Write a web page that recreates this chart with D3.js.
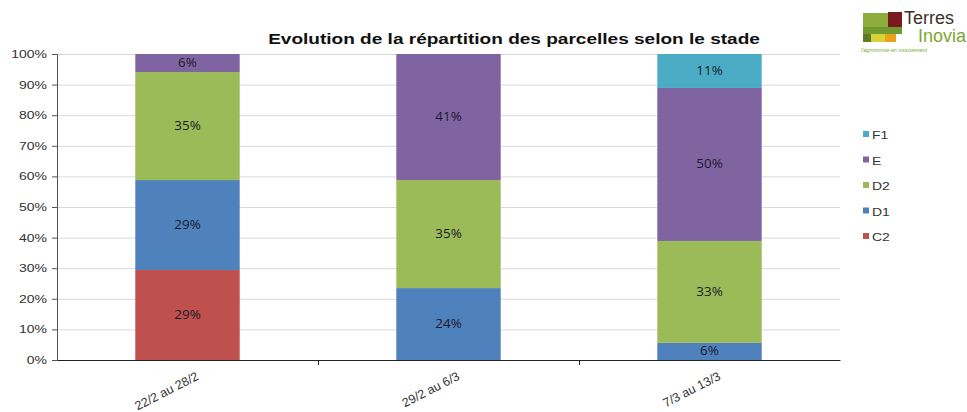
<!DOCTYPE html>
<html>
<head>
<meta charset="utf-8">
<script src="https://cdnjs.cloudflare.com/ajax/libs/d3/7.8.5/d3.min.js"></script>
<style>
  body { margin: 0; background: #fff; }
  text { font-family: "Liberation Sans", Arial, sans-serif; }
</style>
</head>
<body>
<figure id="chart" style="margin:0"></figure>
<script>
// data (percent of parcels per stage)
const periods = ["22/2 au 28/2", "29/2 au 6/3", "7/3 au 13/3"];
const stages = ["C2", "D1", "D2", "E", "F1"];
const C2 = [29.4, 0, 0];
const D1 = [29.4, 23.5, 5.6];
const D2 = [35.3, 35.3, 33.3];
const E = [5.9, 41.2, 50.0];
const F1 = [0, 0, 11.1];
const yTicks = [0, 0.1, 0.2, 0.3, 0.4, 0.5, 0.6, 0.7, 0.8, 0.9, 1];
const colors = ["#C0504D", "#4F81BD", "#9BBB59", "#8064A2", "#4BACC6"];

const width = 967, height = 412;
const margin = { top: 54, left: 57, right: 127, bottom: 52 };
// the original picture was stretched sideways, so the text is too
const sx = 1.27;

const svg = d3.select("#chart").append("svg")
  .attr("width", width).attr("height", height);

// build rows for the stack
const rows = periods.map((p, i) => ({
  period: p, C2: C2[i], D1: D1[i], D2: D2[i], E: E[i], F1: F1[i]
}));
const series = d3.stack().keys(stages).offset(d3.stackOffsetExpand)(rows);

const x = d3.scaleBand()
  .domain(periods)
  .range([margin.left, width - margin.right])
  .paddingInner(0).paddingOuter(0);
const y = d3.scaleLinear().domain([0, 1]).range([height - margin.bottom, margin.top]);
const color = d3.scaleOrdinal().domain(stages).range(colors);

// gridlines
svg.append("g")
  .selectAll("line")
  .data(yTicks.slice(1))
  .join("line")
  .attr("x1", margin.left).attr("x2", width - margin.right)
  .attr("y1", d => y(d) + 0.5).attr("y2", d => y(d) + 0.5)
  .attr("stroke", "#d9d9d9");

// bars
const barW = x.bandwidth() * 0.4;
const groups = svg.append("g").selectAll("g")
  .data(series)
  .join("g")
  .attr("fill", d => color(d.key));

groups.selectAll("rect")
  .data(d => d.filter(s => s[1] - s[0] > 0))
  .join("rect")
  .attr("x", d => x(d.data.period) + (x.bandwidth() - barW) / 2)
  .attr("width", barW)
  .attr("y", d => y(d[1]))
  .attr("height", d => y(d[0]) - y(d[1]));

// value labels
groups.selectAll("text")
  .data(d => d.filter(s => s[1] - s[0] > 0))
  .join("text")
  .attr("transform", d => `translate(${x(d.data.period) + x.bandwidth() / 2},${(y(d[0]) + y(d[1])) / 2 + 4}) scale(1.12,1)`)
  .attr("text-anchor", "middle")
  .attr("font-size", 12)
  .attr("fill", "#1a1a2a")
  .style("font-family", "'Open Sans', sans-serif")
  .text(d => Math.round((d[1] - d[0]) * 100) + "%");

// y axis
const yAxis = svg.append("g")
  .attr("transform", `translate(${margin.left},0)`)
  .call(d3.axisLeft(y).tickValues(yTicks).tickFormat(d3.format(".0%")).tickSize(5).tickPadding(5));
yAxis.select(".domain").attr("stroke", "#555");
yAxis.selectAll(".tick line").attr("stroke", "#555");
yAxis.selectAll("text")
  .attr("x", -10 / sx)
  .attr("transform", `scale(${sx},1)`)
  .attr("font-size", 11).attr("fill", "#333")
  .style("font-family", "'Liberation Sans', Arial, sans-serif");

// x axis
const xAxis = svg.append("g")
  .attr("transform", `translate(0,${height - margin.bottom})`)
  .call(d3.axisBottom(x).tickSize(0).tickFormat(""));
xAxis.select(".domain").attr("stroke", "#222");
xAxis.selectAll(".sep")
  .data(periods.slice(1))
  .join("line")
  .attr("class", "sep")
  .attr("x1", d => x(d) + 0.5).attr("x2", d => x(d) + 0.5)
  .attr("y1", 0).attr("y2", 5)
  .attr("stroke", "#222");
xAxis.selectAll(".lbl")
  .data(periods)
  .join("text")
  .attr("class", "lbl")
  .attr("transform", d => `translate(${x(d) + x.bandwidth() / 2 + 12},${19}) rotate(-27)`)
  .attr("text-anchor", "end")
  .attr("font-size", 12.5)
  .attr("fill", "#333")
  .text(d => d);

// title
svg.append("text")
  .attr("transform", `translate(514,44) scale(${sx},1)`)
  .attr("text-anchor", "middle")
  .attr("font-size", 15)
  .attr("font-weight", "bold")
  .attr("fill", "#111")
  .text("Evolution de la répartition des parcelles selon le stade");

// legend (reversed order, top is F1)
const legend = svg.append("g").attr("transform", "translate(863,135)");
const legItems = legend.selectAll("g")
  .data(stages.slice().reverse())
  .join("g")
  .attr("transform", (d, i) => `translate(0,${i * 25.5})`);
legItems.append("rect")
  .attr("x", 0).attr("y", -4).attr("width", 6).attr("height", 6)
  .attr("fill", d => color(d));
legItems.append("text")
  .attr("transform", `translate(9,4) scale(${sx},1)`)
  .attr("font-size", 11).attr("fill", "#333")
  .text(d => d);

// logo Terres Inovia
const logo = svg.append("g");
logo.append("rect").attr("x", 863).attr("y", 13).attr("width", 25).attr("height", 14).attr("fill", "#8cac3c");
logo.append("rect").attr("x", 888).attr("y", 12).attr("width", 14).attr("height", 16).attr("fill", "#7a1a1e");
logo.append("rect").attr("x", 863).attr("y", 27).attr("width", 39).attr("height", 7).attr("fill", "#6f9a2e");
logo.append("rect").attr("x", 863).attr("y", 34).attr("width", 8).attr("height", 8).attr("fill", "#5b7d24");
logo.append("rect").attr("x", 871).attr("y", 34).attr("width", 14).attr("height", 8).attr("fill", "#d7d23a");
logo.append("rect").attr("x", 885).attr("y", 34).attr("width", 11).attr("height", 8).attr("fill", "#e8a21c");
logo.append("text").attr("x", 904).attr("y", 24).attr("font-size", 18).attr("fill", "#3e3029").text("Terres");
logo.append("text").attr("x", 918).attr("y", 42).attr("font-size", 18).attr("fill", "#7aa632").text("Inovia");
logo.append("text").attr("x", 861).attr("y", 52).attr("font-size", 5.5).attr("fill", "#7aa632")
  .attr("font-style", "italic").text("l'agronomie en mouvement");
</script>
</body>
</html>
